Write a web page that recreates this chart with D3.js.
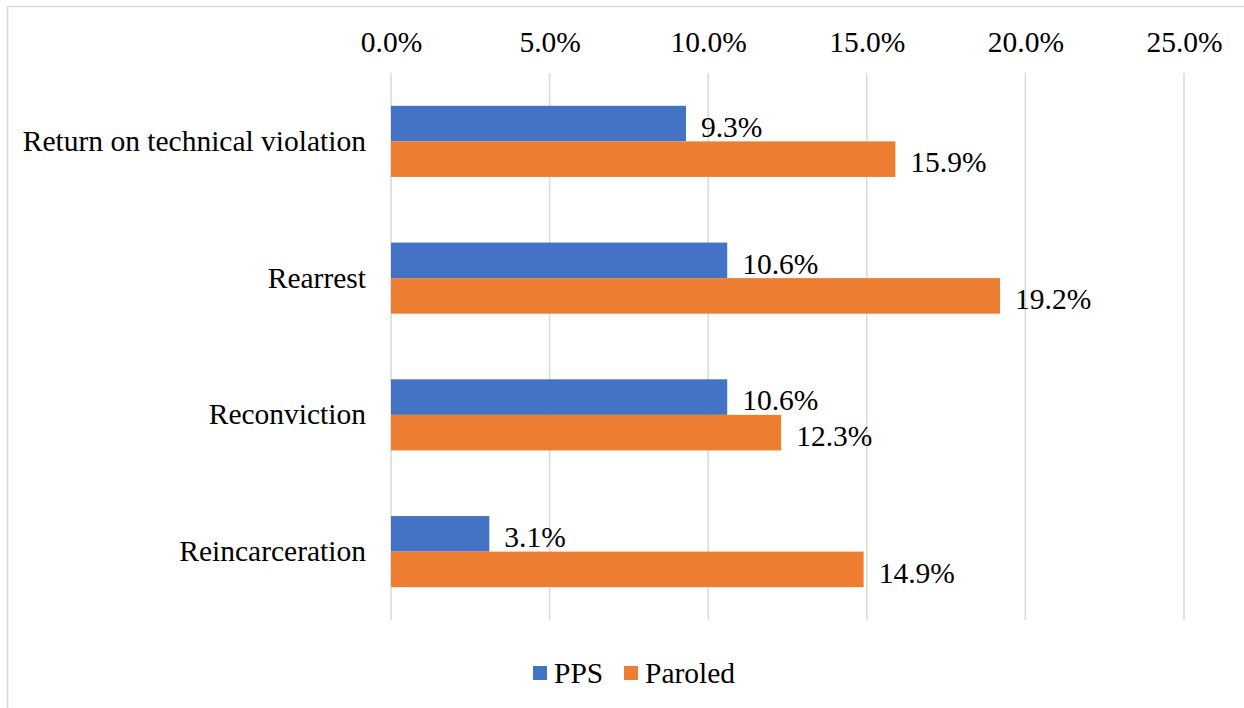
<!DOCTYPE html>
<html>
<head>
<meta charset="utf-8">
<script src="https://cdn.jsdelivr.net/npm/d3@7"></script>
<style>
  body { margin: 0; background: #fff; }
  svg text { font-family: "Liberation Serif", "Times New Roman", serif; fill: #000; }
</style>
</head>
<body>
<div id="chart"></div>
<script>
const categories = ['Return on technical violation', 'Rearrest', 'Reconviction', 'Reincarceration'];
const seriesNames = ['PPS', 'Paroled'];
const ppsValues = [9.3, 10.6, 10.6, 3.1];
const paroledValues = [15.9, 19.2, 12.3, 14.9];
const xTicks = [0, 5, 10, 15, 20, 25];
const colors = ['#4472c4', '#ed7d31'];

const width = 1244;
const height = 708;
const margins = { top: 73, bottom: 88, left: 391, right: 60 };
const fontSize = '29.5px';
const serif = '"Liberation Serif", "Times New Roman", serif';

const svg = d3.select('#chart')
    .append('svg')
    .attr('width', width)
    .attr('height', height);

// chart area border (runs off the right and bottom edges)
svg.append('rect')
    .attr('x', 7.5)
    .attr('y', 6.5)
    .attr('width', width + 20)
    .attr('height', height + 20)
    .attr('fill', 'none')
    .attr('stroke', '#d9d9d9')
    .attr('stroke-width', 1.5);

//scales
const x = d3.scaleLinear()
    .domain([0, 25])
    .range([margins.left, 1184]);

const y = d3.scaleBand()
    .domain(categories)
    .range([margins.top, height - margins.bottom])
    .paddingInner(0.48)
    .paddingOuter(0.24);

const inner = d3.scaleBand()
    .domain(seriesNames)
    .range([0, y.bandwidth()]);

//grid lines
svg.append('g')
    .selectAll('line')
    .data(xTicks)
    .join('line')
    .attr('x1', d => x(d))
    .attr('x2', d => x(d))
    .attr('y1', margins.top)
    .attr('y2', height - margins.bottom)
    .attr('stroke', '#d9d9d9')
    .attr('stroke-width', 1.5);

//top axis labels
const axis = svg.append('g')
    .attr('transform', `translate(0,${margins.top})`)
    .call(d3.axisTop(x).tickValues(xTicks).tickFormat(d => d.toFixed(1) + '%').tickSize(0).tickPadding(21));
axis.select('.domain').remove();
axis.attr('font-family', serif);
axis.selectAll('text')
    .style('font-size', fontSize)
    .style('font-family', serif);

//category labels
const yAxis = svg.append('g')
    .attr('transform', `translate(${margins.left},0)`)
    .call(d3.axisLeft(y).tickSize(0).tickPadding(25));
yAxis.select('.domain').remove();
yAxis.attr('font-family', serif);
yAxis.selectAll('text')
    .style('font-size', fontSize)
    .style('font-family', serif);

//bars
const rows = categories.map((c, i) => ({
    category: c,
    values: [
        { series: seriesNames[0], value: ppsValues[i] },
        { series: seriesNames[1], value: paroledValues[i] }
    ]
}));

const groups = svg.append('g')
    .selectAll('g')
    .data(rows)
    .join('g')
    .attr('transform', d => `translate(0,${y(d.category)})`);

groups.selectAll('rect')
    .data(d => d.values)
    .join('rect')
    .attr('x', x(0))
    .attr('y', d => inner(d.series))
    .attr('width', d => x(d.value) - x(0))
    .attr('height', inner.bandwidth())
    .attr('fill', (d, i) => colors[i]);

groups.selectAll('text')
    .data(d => d.values)
    .join('text')
    .attr('x', d => x(d.value) + 15)
    .attr('y', d => inner(d.series) + inner.bandwidth() / 2 + 3)
    .attr('dy', '0.35em')
    .style('font-size', fontSize)
    .style('font-family', serif)
    .text(d => d.value.toFixed(1) + '%');

//legend
const legend = svg.append('g')
    .attr('transform', 'translate(533,673)');
const item = legend.selectAll('g')
    .data(seriesNames)
    .join('g')
    .attr('transform', (d, i) => `translate(${i * 91},0)`);
item.append('rect')
    .attr('x', 0)
    .attr('y', -7)
    .attr('width', 14)
    .attr('height', 14)
    .attr('fill', (d, i) => colors[i]);
item.append('text')
    .attr('x', 21)
    .attr('y', 0)
    .attr('dy', '0.35em')
    .style('font-size', fontSize)
    .style('font-family', serif)
    .text(d => d);
</script>
</body>
</html>
